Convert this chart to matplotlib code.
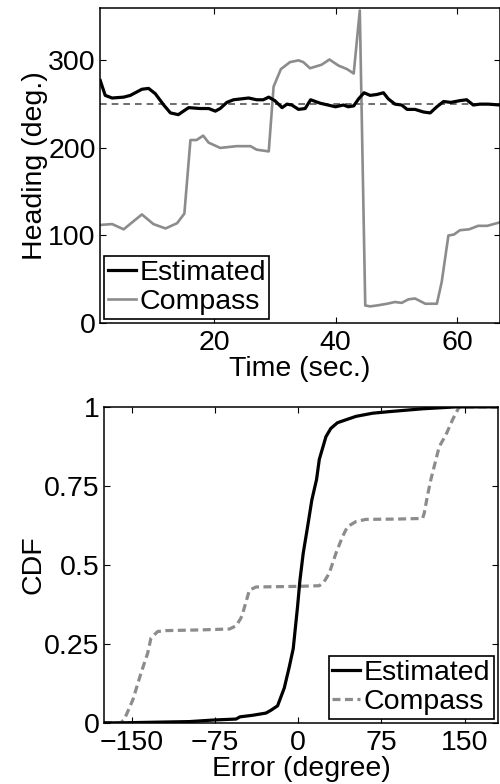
import matplotlib
matplotlib.use("Agg")
import matplotlib.pyplot as plt

plt.rcParams['font.family'] = ['Liberation Sans', 'DejaVu Sans']

# ---- Top panel: heading over time ----
est_t = [1.24, 2.06, 3.2, 5.1, 6.2, 8.1, 9.2, 10.3, 11.7, 12.8, 14.1, 15.8, 17.7, 19.1,
         20.2, 21.0, 22.1, 23.2, 25.7, 27.0, 28.1, 29.0, 30.0, 31.2, 32.0, 32.8, 33.9,
         35.0, 35.9, 37.5, 40.0, 41.3, 42.1, 43.0, 43.8, 44.7, 45.7, 46.8, 47.9, 48.7,
         49.8, 50.9, 51.8, 53.1, 54.5, 55.6, 56.7, 57.8, 59.0, 60.5, 61.6, 62.7, 63.8,
         65.2, 67.1]
est_v = [277, 260, 257, 258, 260, 267, 268, 262, 249, 240, 238, 246, 245, 245,
         242, 245, 252, 255, 257, 255, 255, 258, 254, 246, 250, 249, 244,
         245, 255, 251, 247, 249, 247, 248, 256, 263, 260, 261, 263, 256,
         250, 249, 244, 244, 241, 240, 247, 253, 252, 254, 255, 249, 250,
         250, 249]

cmp_t = [1.24, 3.2, 5.1, 6.5, 8.1, 10.0, 12.0, 13.9, 15.1, 16.1, 17.1, 18.2, 19.1, 21.0,
         23.7, 26.0, 27.0, 29.0, 29.8, 31.0, 32.5, 33.9, 34.7, 35.8, 37.7, 39.0, 40.5,
         41.9, 43.0, 44.0, 44.9, 45.7, 46.8, 48.5, 49.8, 50.9, 52.0, 53.1, 54.8, 56.7,
         57.5, 58.6, 59.5, 60.5, 62.0, 63.5, 65.0, 67.1]
cmp_v = [112, 113, 107, 115, 124, 113, 108, 114, 125, 209, 209, 214, 206, 200,
         202, 202, 198, 196, 270, 290, 298, 300, 298, 291, 295, 301, 294,
         290, 285, 357, 20, 19, 20, 22, 24, 23, 27, 28, 22, 22,
         47, 100, 101, 106, 107, 111, 111, 115]

truth = 250

# ---- Bottom panel: CDF of error ----
cdf_est_x = [-175, -160, -130, -98, -76, -56, -52.5, -41, -29, -24.5, -18.6, -12.6, -8,
             -4.5, -0.6, 1.5, 4.5, 8.4, 12.3, 16.5, 19, 25, 29.4, 35.4, 52, 67, 82,
             112, 142, 180]
cdf_est_y = [0, 0.0, 0.002, 0.004, 0.009, 0.012, 0.019, 0.024, 0.031, 0.04, 0.054, 0.11,
             0.178, 0.235, 0.368, 0.45, 0.537, 0.62, 0.706, 0.77, 0.834, 0.906, 0.932,
             0.95, 0.97, 0.98, 0.985, 0.994, 1.0, 1.0]

cdf_cmp_x = [-175, -160, -156.8, -149, -141.7, -135.7, -132.7, -126.7, -119, -90, -62,
             -56, -51.7, -50, -44, -38, 0, 19, 23.4, 28, 34, 40, 44.4, 52, 61, 90, 112,
             113.5, 116.5, 119.5, 124, 127, 133, 139, 145, 180]
cdf_cmp_y = [0, 0, 0.01, 0.073, 0.157, 0.22, 0.268, 0.289, 0.292, 0.294, 0.297,
             0.307, 0.331, 0.347, 0.42, 0.43, 0.432, 0.434, 0.447, 0.474, 0.537, 0.59,
             0.621, 0.637, 0.644, 0.645, 0.647, 0.663, 0.72, 0.77, 0.832, 0.874, 0.911,
             0.959, 1.0, 1.0]

FS = 20.5
GRAY = '#8c8c8c'

fig = plt.figure(figsize=(5.0, 7.84), dpi=100)

ax1 = fig.add_axes([0.200, 0.588, 0.800, 0.402])
ax1.plot(est_t, est_v, color='black', lw=2.3, label='Estimated', zorder=3)
ax1.plot(cmp_t, cmp_v, color=GRAY, lw=1.9, label='Compass', zorder=2)
ax1.axhline(truth, color='#555555', lw=1.2, ls=(0, (4, 3)), zorder=1)
ax1.set_xlim(1.2, 67.1)
ax1.set_ylim(0, 360)
ax1.set_xticks([20, 40, 60])
ax1.set_yticks([0, 100, 200, 300])
ax1.set_xlabel('Time (sec.)', fontsize=FS, labelpad=0)
ax1.set_ylabel('Heading (deg.)', fontsize=FS, labelpad=0)
leg1 = ax1.legend(loc='lower left', fontsize=FS, handlelength=1.0,
                  handletextpad=0.12, borderpad=0.12, labelspacing=0.12,
                  borderaxespad=0.15, fancybox=False, framealpha=1)
leg1.get_frame().set_edgecolor('black')
leg1.get_frame().set_linewidth(1.2)

ax2 = fig.add_axes([0.208, 0.078, 0.788, 0.403])
ax2.plot(cdf_est_x, cdf_est_y, color='black', lw=2.3, label='Estimated', zorder=3)
ax2.plot(cdf_cmp_x, cdf_cmp_y, color=GRAY, lw=2.3, ls=(0, (2.5, 1.4)),
         label='Compass', zorder=2)
ax2.set_xlim(-175, 180)
ax2.set_ylim(0, 1)
ax2.set_xticks([-150, -75, 0, 75, 150])
ax2.set_yticks([0, 0.25, 0.5, 0.75, 1])
ax2.set_yticklabels(['0', '0.25', '0.5', '0.75', '1'])
ax2.set_xlabel('Error (degree)', fontsize=FS, labelpad=0)
ax2.set_ylabel('CDF', fontsize=FS, labelpad=-2)
leg2 = ax2.legend(loc='lower right', fontsize=FS, handlelength=1.0,
                  handletextpad=0.12, borderpad=0.12, labelspacing=0.12,
                  borderaxespad=0.15, fancybox=False, framealpha=1)
leg2.get_frame().set_edgecolor('black')
leg2.get_frame().set_linewidth(1.2)

for ax in (ax1, ax2):
    ax.tick_params(direction='in', top=True, right=True, length=4, width=0.8,
                   labelsize=FS)
    ax.tick_params(axis='x', pad=5)
    ax.tick_params(axis='y', pad=3)
    for s in ax.spines.values():
        s.set_linewidth(1.1)

fig.savefig('out.png', dpi=100)
